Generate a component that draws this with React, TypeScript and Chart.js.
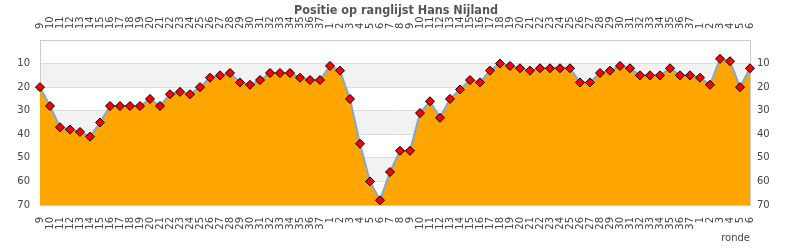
import React, { useEffect, useRef } from 'react';
import { Chart, registerables } from 'chart.js';

Chart.register(...registerables);

const chartTitle = 'Positie op ranglijst Hans Nijland';
const xAxisTitle = 'ronde';

const rondes = [
  '9', '10', '11', '12', '13', '14', '15', '16', '17', '18', '19', '20', '21', '22', '23', '24', '25', '26', '27', '28', '29', '30', '31', '32', '33', '34', '35', '36', '37',
  '1', '2', '3', '4', '5', '6', '7', '8', '9', '10', '11', '12', '13', '14', '15', '16', '17', '18', '19', '20', '21', '22', '23', '24', '25', '26', '27', '28', '29', '30', '31', '32', '33', '34', '35', '36', '37',
  '1', '2', '3', '4', '5', '6',
];

const posities = [
  20, 28, 37, 38, 39, 41, 35, 28, 28, 28, 28, 25, 28, 23, 22, 23, 20, 16, 15, 14, 18, 19, 17, 14, 14, 14, 16, 17, 17,
  11, 13, 25, 44, 60, 68, 56, 47, 47, 31, 26, 33, 25, 21, 17, 18, 13, 10, 11, 12, 13, 12, 12, 12, 12, 18, 18, 14, 13, 11, 12, 15, 15, 15, 12, 15, 15,
  16, 19, 8, 9, 20, 12,
];

const yMin = 0;
const yMax = 70;
const yStep = 10;
const shadedBands = [
  [10, 20],
  [30, 40],
  [50, 60],
];

const FONT = 'DejaVu Sans';

const bandPlugin = {
  id: 'bands',
  beforeDraw(chart: any) {
    const { ctx, chartArea } = chart;
    const y = chart.scales.y;
    ctx.save();
    ctx.fillStyle = '#f2f2f2';
    for (const [a, b] of shadedBands) {
      const t = y.getPixelForValue(a);
      const bt = y.getPixelForValue(b);
      ctx.fillRect(chartArea.left, t, chartArea.right - chartArea.left, bt - t);
    }
    ctx.restore();
  },
};

const titlePlugin = {
  id: 'topTitle',
  afterDraw(chart: any) {
    const { ctx } = chart;
    ctx.save();
    ctx.font = `bold 12.5px "DejaVu Sans Condensed", "DejaVu Sans", sans-serif`;
    ctx.fillStyle = '#555555';
    ctx.textAlign = 'center';
    ctx.textBaseline = 'middle';
    ctx.fillText(chartTitle, 396, 11);
    ctx.restore();
  },
};

export default function App() {
  const ref = useRef<HTMLCanvasElement | null>(null);

  useEffect(() => {
    if (!ref.current) return;
    const tickFont = { family: FONT, size: 10 };
    const chart = new Chart(ref.current, {
      type: 'line',
      data: {
        labels: rondes,
        datasets: [
          {
            label: 'positie',
            data: posities,
            borderColor: '#80a8d2',
            borderWidth: 2,
            backgroundColor: '#ffa500',
            fill: { value: yMax },
            tension: 0,
            pointStyle: 'rectRot',
            pointRadius: 4.5,
            pointBackgroundColor: '#ff0000',
            pointBorderColor: '#000000',
            pointBorderWidth: 1,
            clip: false as any,
          },
        ],
      },
      options: {
        responsive: false,
        animation: false,
        devicePixelRatio: 1,
        layout: { padding: 0 },
        plugins: {
          legend: { display: false },
          title: { display: false },
          tooltip: { enabled: false },
        },
        scales: {
          x: {
            type: 'category',
            position: 'bottom',
            offset: false,
            grid: { display: false, drawTicks: false },
            border: { display: true, color: '#cccccc' },
            ticks: {
              autoSkip: false,
              maxRotation: 90,
              minRotation: 90,
              padding: 12,
              color: '#444444',
              font: tickFont,
            },
            title: {
              display: true,
              text: xAxisTitle,
              align: 'end',
              color: '#444444',
              font: tickFont,
              padding: { top: 0, bottom: 6 },
            },
            afterFit(scale: any) {
              scale.height = 45;
            },
          },
          x2: {
            type: 'category',
            position: 'top',
            offset: false,
            labels: rondes,
            grid: { display: false, drawTicks: false },
            border: { display: true, color: '#cccccc' },
            ticks: {
              autoSkip: false,
              maxRotation: 90,
              minRotation: 90,
              padding: 11,
              labelOffset: 12,
              color: '#444444',
              font: tickFont,
            },
            afterFit(scale: any) {
              scale.height = 40;
            },
          },
          y: {
            position: 'left',
            reverse: true,
            min: yMin,
            max: yMax,
            grid: { color: '#dddddd', drawTicks: false },
            border: { display: true, color: '#cccccc' },
            ticks: {
              stepSize: yStep,
              padding: 10,
              color: '#444444',
              font: tickFont,
              callback: (v: any) => (v === 0 ? '' : String(v)),
            },
            afterFit(scale: any) {
              scale.width = 40;
            },
          },
          y2: {
            position: 'right',
            reverse: true,
            min: yMin,
            max: yMax,
            grid: { display: false, drawTicks: false },
            border: { display: true, color: '#cccccc' },
            ticks: {
              stepSize: yStep,
              padding: 7,
              color: '#444444',
              font: tickFont,
              callback: (v: any) => (v === 0 ? '' : String(v)),
            },
            afterFit(scale: any) {
              scale.width = 40;
            },
          },
        },
      },
      plugins: [bandPlugin, titlePlugin],
    });
    return () => chart.destroy();
  }, []);

  return (
    <div style={{ position: 'absolute', left: 0, top: 0, width: 790, height: 250, background: '#ffffff' }}>
      <canvas ref={ref} width={790} height={250} style={{ display: 'block', width: 790, height: 250 }} />
    </div>
  );
}
